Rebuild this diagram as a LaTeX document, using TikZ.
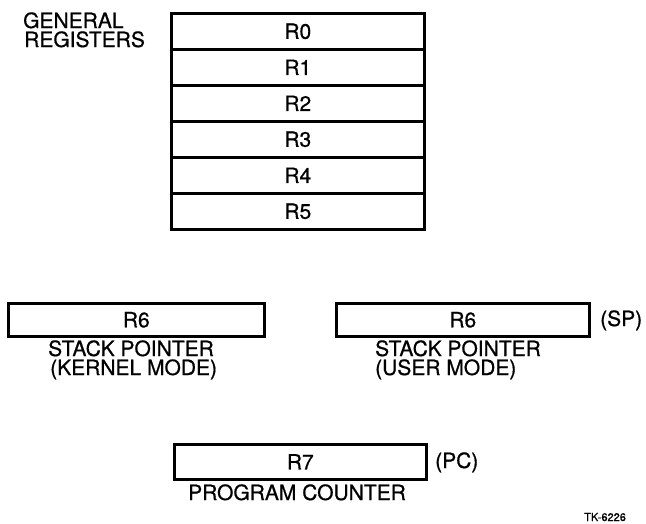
\documentclass[tikz,border=0pt]{standalone}
\usepackage{fontspec}
\setmainfont[FakeBold=0.7]{TeX Gyre Heros}
\begin{document}
\begin{tikzpicture}[x=1pt,y=-1pt,
  lbl/.style={inner sep=0pt,anchor=base west,font=\fontsize{21}{19}\selectfont},
  reg/.style={draw,line width=2.6pt,inner sep=0pt,anchor=north west,
              font=\fontsize{21}{19}\selectfont},
  row/.style={reg,minimum width=253pt,minimum height=36pt}]
\useasboundingbox (0,0) rectangle (646,523);
% general registers stack
\node[row] (r0) at (170,12) {R0};
\node[row] (r1) at (170,48) {R1};
\node[row] (r2) at (170,84) {R2};
\node[row] (r3) at (170,120) {R3};
\node[row] (r4) at (170,156) {R4};
\node[row] (r5) at (170,192) {R5};
\node[lbl] (gen) at (23,28) {GENERAL};
\node[lbl] (regs) at (24,47) {REGISTERS};
% stack pointers
\node[reg,minimum width=256pt,minimum height=33pt] (r6k) at (7,302) {R6};
\node[lbl] (spk) at (48,356) {STACK POINTER};
\node[lbl] (km) at (50,375) {(KERNEL MODE)};
\node[reg,minimum width=253pt,minimum height=33pt] (r6u) at (335,302) {R6};
\node[lbl] (sp) at (600,326) {(SP)};
\node[lbl] (spu) at (375,356) {STACK POINTER};
\node[lbl] (um) at (375,375) {(USER MODE)};
% program counter
\node[reg,minimum width=252pt,minimum height=35pt] (r7) at (173,443) {R7};
\node[lbl] (pc) at (435,468) {(PC)};
\node[lbl] (pcl) at (188,500) {PROGRAM COUNTER};
\node[lbl,font=\fontsize{11}{11}\selectfont] (tk) at (584,521) {TK-6226};
\end{tikzpicture}
\end{document}
